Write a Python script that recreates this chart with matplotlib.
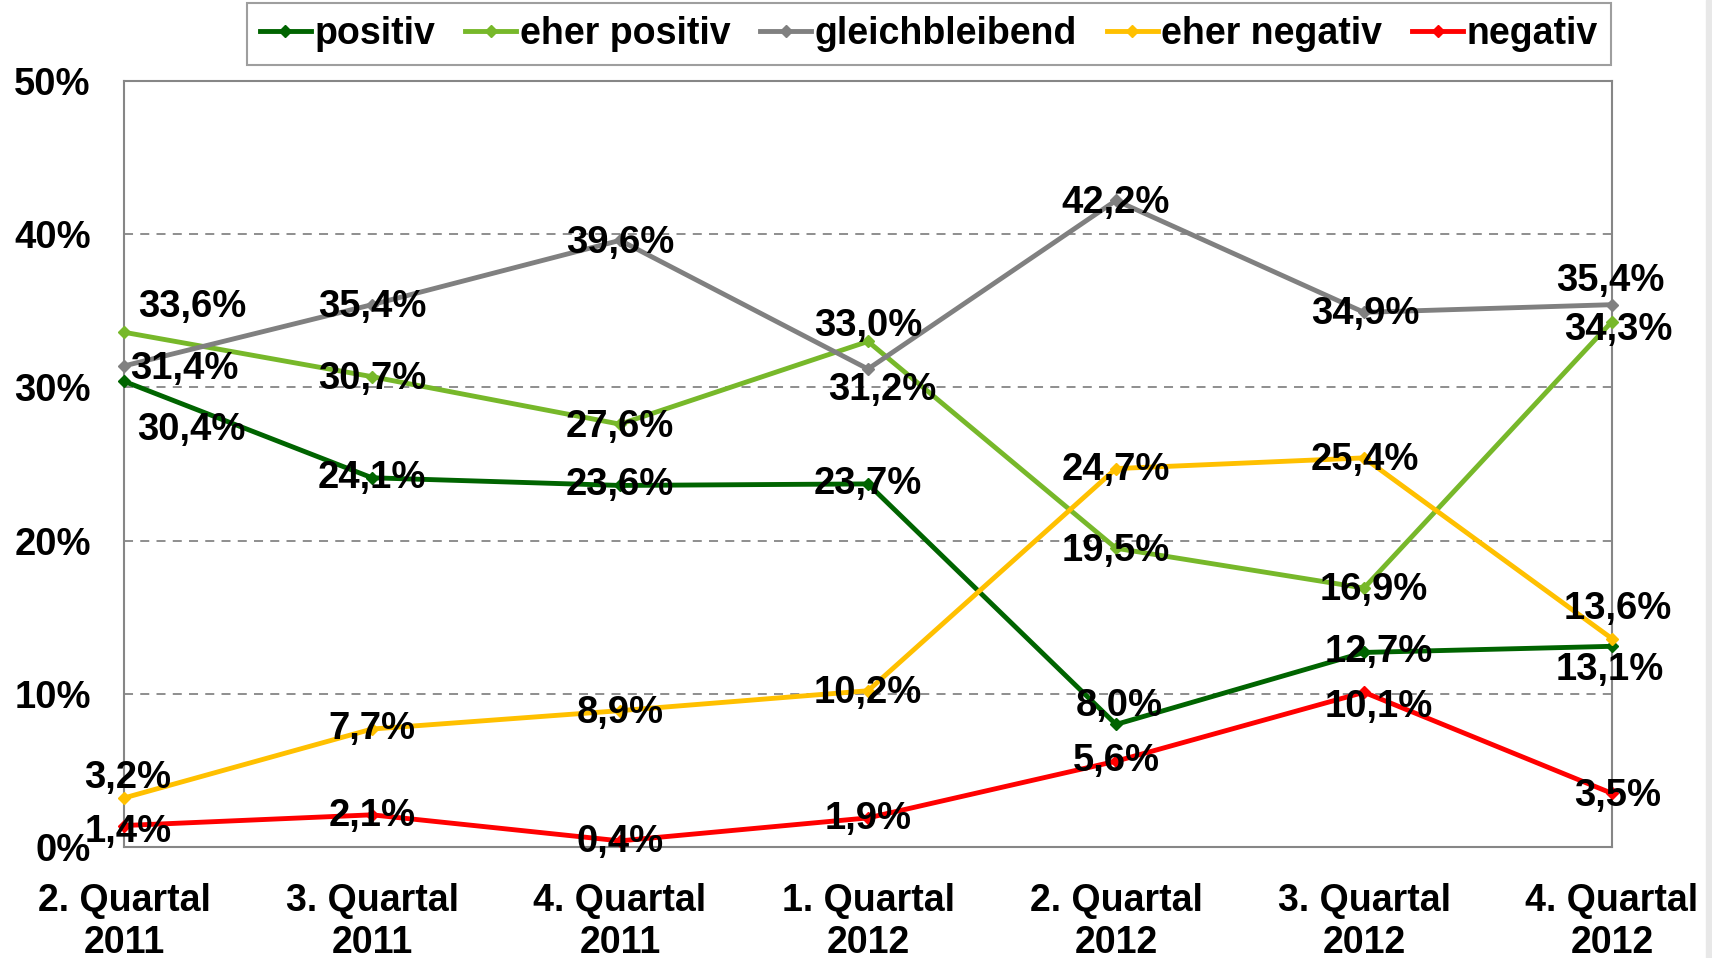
import matplotlib.pyplot as plt
from matplotlib.ticker import FuncFormatter

plt.rcParams['font.family'] = ['Liberation Sans', 'DejaVu Sans']
plt.rcParams['font.weight'] = 'bold'

quarters = ['2. Quartal\n2011', '3. Quartal\n2011', '4. Quartal\n2011', '1. Quartal\n2012',
            '2. Quartal\n2012', '3. Quartal\n2012', '4. Quartal\n2012']

positiv = [30.4, 24.1, 23.6, 23.7, 8.0, 12.7, 13.1]
eher_positiv = [33.6, 30.7, 27.6, 33.0, 19.5, 16.9, 34.3]
gleichbleibend = [31.4, 35.4, 39.6, 31.2, 42.2, 34.9, 35.4]
eher_negativ = [3.2, 7.7, 8.9, 10.2, 24.7, 25.4, 13.6]
negativ = [1.4, 2.1, 0.4, 1.9, 5.6, 10.1, 3.5]

series_names = ['positiv', 'eher positiv', 'gleichbleibend', 'eher negativ', 'negativ']
series_values = [positiv, eher_positiv, gleichbleibend, eher_negativ, negativ]
colors = ['#006400', '#77B82A', '#808080', '#FFC000', '#FF0000']

# label offsets in pixels (dx, dy; dy positive = up)
label_offsets = [
    [(67, -49), (0, 0), (0, 0), (0, 0), (3, 18), (15, 0), (-2, -24)],
    [(68, 25), (0, -2), (0, -3), (0, 15), (0, -3), (10, -2), (6, -8)],
    [(60, -3), (0, -2), (0, -3), (14, -21), (0, -3), (1, -2), (-2, 24)],
    [(4, 20), (0, 0), (0, -2), (0, -2), (0, -1), (1, -2), (6, 30)],
    [(4, -6), (0, -1), (0, -1), (0, -1), (0, 0), (15, -15), (6, -3)],
]

fig = plt.figure(figsize=(17.12, 9.58), dpi=100)
ax = fig.add_axes([124 / 1712, 1 - 847 / 958, (1612 - 124) / 1712, (847 - 81) / 958])

x = list(range(len(quarters)))
for name, vals, col, offs in zip(series_names, series_values, colors, label_offsets):
    ax.plot(x, vals, color=col, lw=3.5, marker='D', ms=6, label=name, clip_on=False, zorder=3)
    for xi, v, (dx, dy) in zip(x, vals, offs):
        ax.annotate(('%.1f%%' % v).replace('.', ','), (xi, v), xytext=(dx, dy),
                    textcoords='offset pixels', ha='center', va='center',
                    fontsize=27.5, fontweight='bold', color='black', zorder=5)

ax.set_xlim(0, 6)
ax.set_ylim(0, 50)
ax.set_yticks([0, 10, 20, 30, 40, 50])
ax.yaxis.set_major_formatter(FuncFormatter(lambda v, p: '%d%%' % v))
ax.set_xticks(x)
ax.set_xticklabels(quarters)
ax.tick_params(axis='y', length=0, labelsize=27.5, pad=24)
ax.tick_params(axis='x', length=0, labelsize=27, pad=26)
for lbl in ax.get_xticklabels() + ax.get_yticklabels():
    lbl.set_fontweight('bold')

ax.grid(axis='y', color='#868686', ls=(0, (5, 4)), lw=1.3)
ax.set_axisbelow(True)
for sp in ax.spines.values():
    sp.set_color('#868686')
    sp.set_linewidth(1.5)

leg = fig.legend(loc='upper left', bbox_to_anchor=(247 / 1712, 1 - 3 / 958), ncol=5,
                 fontsize=27, frameon=True, fancybox=False, handlelength=1.35,
                 handletextpad=0.1, columnspacing=0.8, borderpad=0.35, borderaxespad=0)
leg.get_frame().set_edgecolor('#868686')
leg.get_frame().set_linewidth(1.5)
for t in leg.get_texts():
    t.set_fontweight('bold')

fig.patches.append(plt.Rectangle((1706 / 1712, 0), 6 / 1712, 1, transform=fig.transFigure,
                                 color='#e8e8e8', zorder=0))

fig.savefig('out.png', dpi=100)
